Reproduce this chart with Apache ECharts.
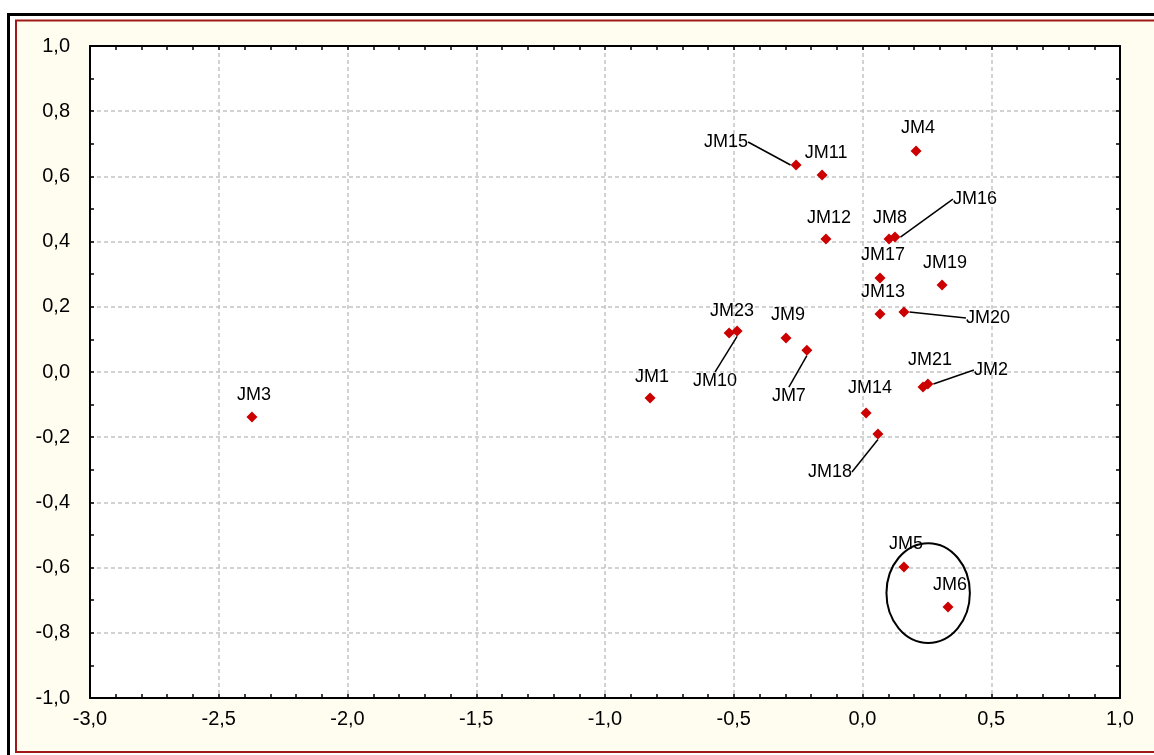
<!DOCTYPE html>
<html>
<head>
<meta charset="utf-8">
<title>JM scatter</title>
<script src="https://cdn.jsdelivr.net/npm/echarts@6/dist/echarts.min.js"></script>
<style>
  html, body { margin: 0; padding: 0; background: #ffffff; }
  #chart { width: 1154px; height: 755px; }
</style>
</head>
<body>
<div id="chart"></div>
<script>
// Sample names and their coordinates on the two axes
const names = ['JM1','JM2','JM3','JM4','JM5','JM6','JM7','JM8','JM9','JM10','JM11','JM12',
               'JM13','JM14','JM15','JM16','JM17','JM18','JM19','JM20','JM21','JM23'];
const xValues = [-0.825, 0.254, -2.371, 0.208, 0.161, 0.332, -0.216, 0.103, -0.297, -0.487, -0.157, -0.142,
                 0.068, 0.014, -0.258, 0.126, 0.068, 0.060, 0.309, 0.161, 0.235, -0.518];
const yValues = [-0.080, -0.037, -0.138, 0.678, -0.598, -0.721, 0.067, 0.408, 0.104, 0.126, 0.604, 0.408,
                 0.178, -0.126, 0.635, 0.414, 0.288, -0.190, 0.267, 0.184, -0.046, 0.120];

// Axis ranges and tick steps
const xRange = [-3, 1], xStep = 0.5;
const yRange = [-1, 1], yStep = 0.2;

// Ring drawn around the JM5/JM6 group (data units)
const ringCenter = [0.255, -0.678];
const ringRadius = [0.162, 0.153];

// Label placement relative to each point (pixels); "lead" adds a leader line
const labelShift = {
  JM1: [2, -21], JM2: [63, -14, 'lead'], JM3: [2, -22], JM4: [2, -23], JM5: [2, -23], JM6: [2, -22],
  JM7: [-18, 46, 'lead'], JM8: [1, -21], JM9: [2, -23], JM10: [-22, 50, 'lead'], JM11: [4, -22],
  JM12: [3, -21], JM13: [3, -22], JM14: [4, -25], JM15: [-70, -23, 'lead'], JM16: [80, -38, 'lead'],
  JM17: [3, -23], JM18: [-48, 38, 'lead'], JM19: [3, -22], JM20: [84, 6, 'lead'], JM21: [7, -27], JM23: [3, -22]
};

const fmt = v => v.toFixed(1).replace('.', ',');

const points = names.map((n, i) => {
  const lead = labelShift[n][2] === 'lead';
  return {
    name: n,
    value: [xValues[i], yValues[i]],
    label: lead ? { padding: [3, 4] } : {},
    labelLine: { show: lead }
  };
});

const chart = echarts.init(document.getElementById('chart'), null, { renderer: 'canvas' });

const tickStyle = { show: true, inside: true, length: 4, lineStyle: { color: '#000', width: 1.5 } };
const minorStyle = { show: true, length: 4, lineStyle: { color: '#000', width: 1.5 } };
const lineStyle = { show: true, onZero: false, lineStyle: { color: '#000', width: 2 } };
const gridDash = { show: true, lineStyle: { color: '#c4c4c4', width: 1.5, type: [4, 3] } };
const tickFont = { color: '#000', fontSize: 20, fontFamily: 'Liberation Sans, Arial, sans-serif', formatter: fmt };

chart.setOption({
  animation: false,
  backgroundColor: '#ffffff',
  graphic: [
    { type: 'rect', z: -10, shape: { x: 8.5, y: 14.5, width: 1300, height: 900 },
      style: { fill: '#ffffff', stroke: '#000000', lineWidth: 3 }, silent: true },
    { type: 'rect', z: -9, shape: { x: 16, y: 20.5, width: 1300, height: 731.5 },
      style: { fill: '#fffcf0', stroke: '#a01818', lineWidth: 2 }, silent: true },
    { type: 'rect', z: -8, shape: { x: 90, y: 46, width: 1030, height: 652 },
      style: { fill: '#ffffff' }, silent: true }
  ],
  grid: { left: 90, top: 46, right: 34, bottom: 57, containLabel: false },
  xAxis: [
    { type: 'value', position: 'bottom', min: xRange[0], max: xRange[1], interval: xStep,
      axisLine: lineStyle, axisTick: tickStyle, minorTick: Object.assign({ splitNumber: 5 }, minorStyle),
      splitLine: gridDash, axisLabel: Object.assign({ margin: 11 }, tickFont) },
    { type: 'value', position: 'top', min: xRange[0], max: xRange[1], interval: xStep,
      axisLine: lineStyle, axisTick: tickStyle, minorTick: Object.assign({ splitNumber: 5 }, minorStyle),
      splitLine: { show: false }, axisLabel: { show: false } }
  ],
  yAxis: [
    { type: 'value', position: 'left', min: yRange[0], max: yRange[1], interval: yStep,
      axisLine: lineStyle, axisTick: tickStyle, minorTick: Object.assign({ splitNumber: 2 }, minorStyle),
      splitLine: gridDash, axisLabel: Object.assign({ margin: 20 }, tickFont) },
    { type: 'value', position: 'right', min: yRange[0], max: yRange[1], interval: yStep,
      axisLine: lineStyle, axisTick: tickStyle, minorTick: Object.assign({ splitNumber: 2 }, minorStyle),
      splitLine: { show: false }, axisLabel: { show: false } }
  ],
  series: [
    {
      type: 'scatter',
      xAxisIndex: 0, yAxisIndex: 0,
      symbol: 'diamond',
      symbolSize: 11,
      itemStyle: { color: '#cc0000', opacity: 1 },
      data: points,
      z: 5,
      label: {
        show: true,
        position: 'inside',
        formatter: '{b}',
        color: '#000',
        opacity: 1,
        fontSize: 18,
        fontFamily: 'Liberation Sans, Arial, sans-serif'
      },
      labelLine: { show: false, lineStyle: { color: '#000', width: 1.5, opacity: 1 } },
      labelLayout: params => {
        const s = labelShift[names[params.dataIndex]];
        return { dx: s[0], dy: s[1] };
      }
    },
    {
      type: 'custom',
      xAxisIndex: 0, yAxisIndex: 0,
      data: [[ringCenter[0], ringCenter[1], ringRadius[0], ringRadius[1]]],
      silent: true,
      z: 6,
      renderItem: (params, api) => {
        const c = api.coord([api.value(0), api.value(1)]);
        const s = api.size([api.value(2), api.value(3)]);
        return {
          type: 'ellipse',
          shape: { cx: c[0], cy: c[1], rx: s[0], ry: s[1] },
          style: { fill: 'none', stroke: '#000', lineWidth: 2 }
        };
      }
    }
  ]
});
</script>
</body>
</html>
